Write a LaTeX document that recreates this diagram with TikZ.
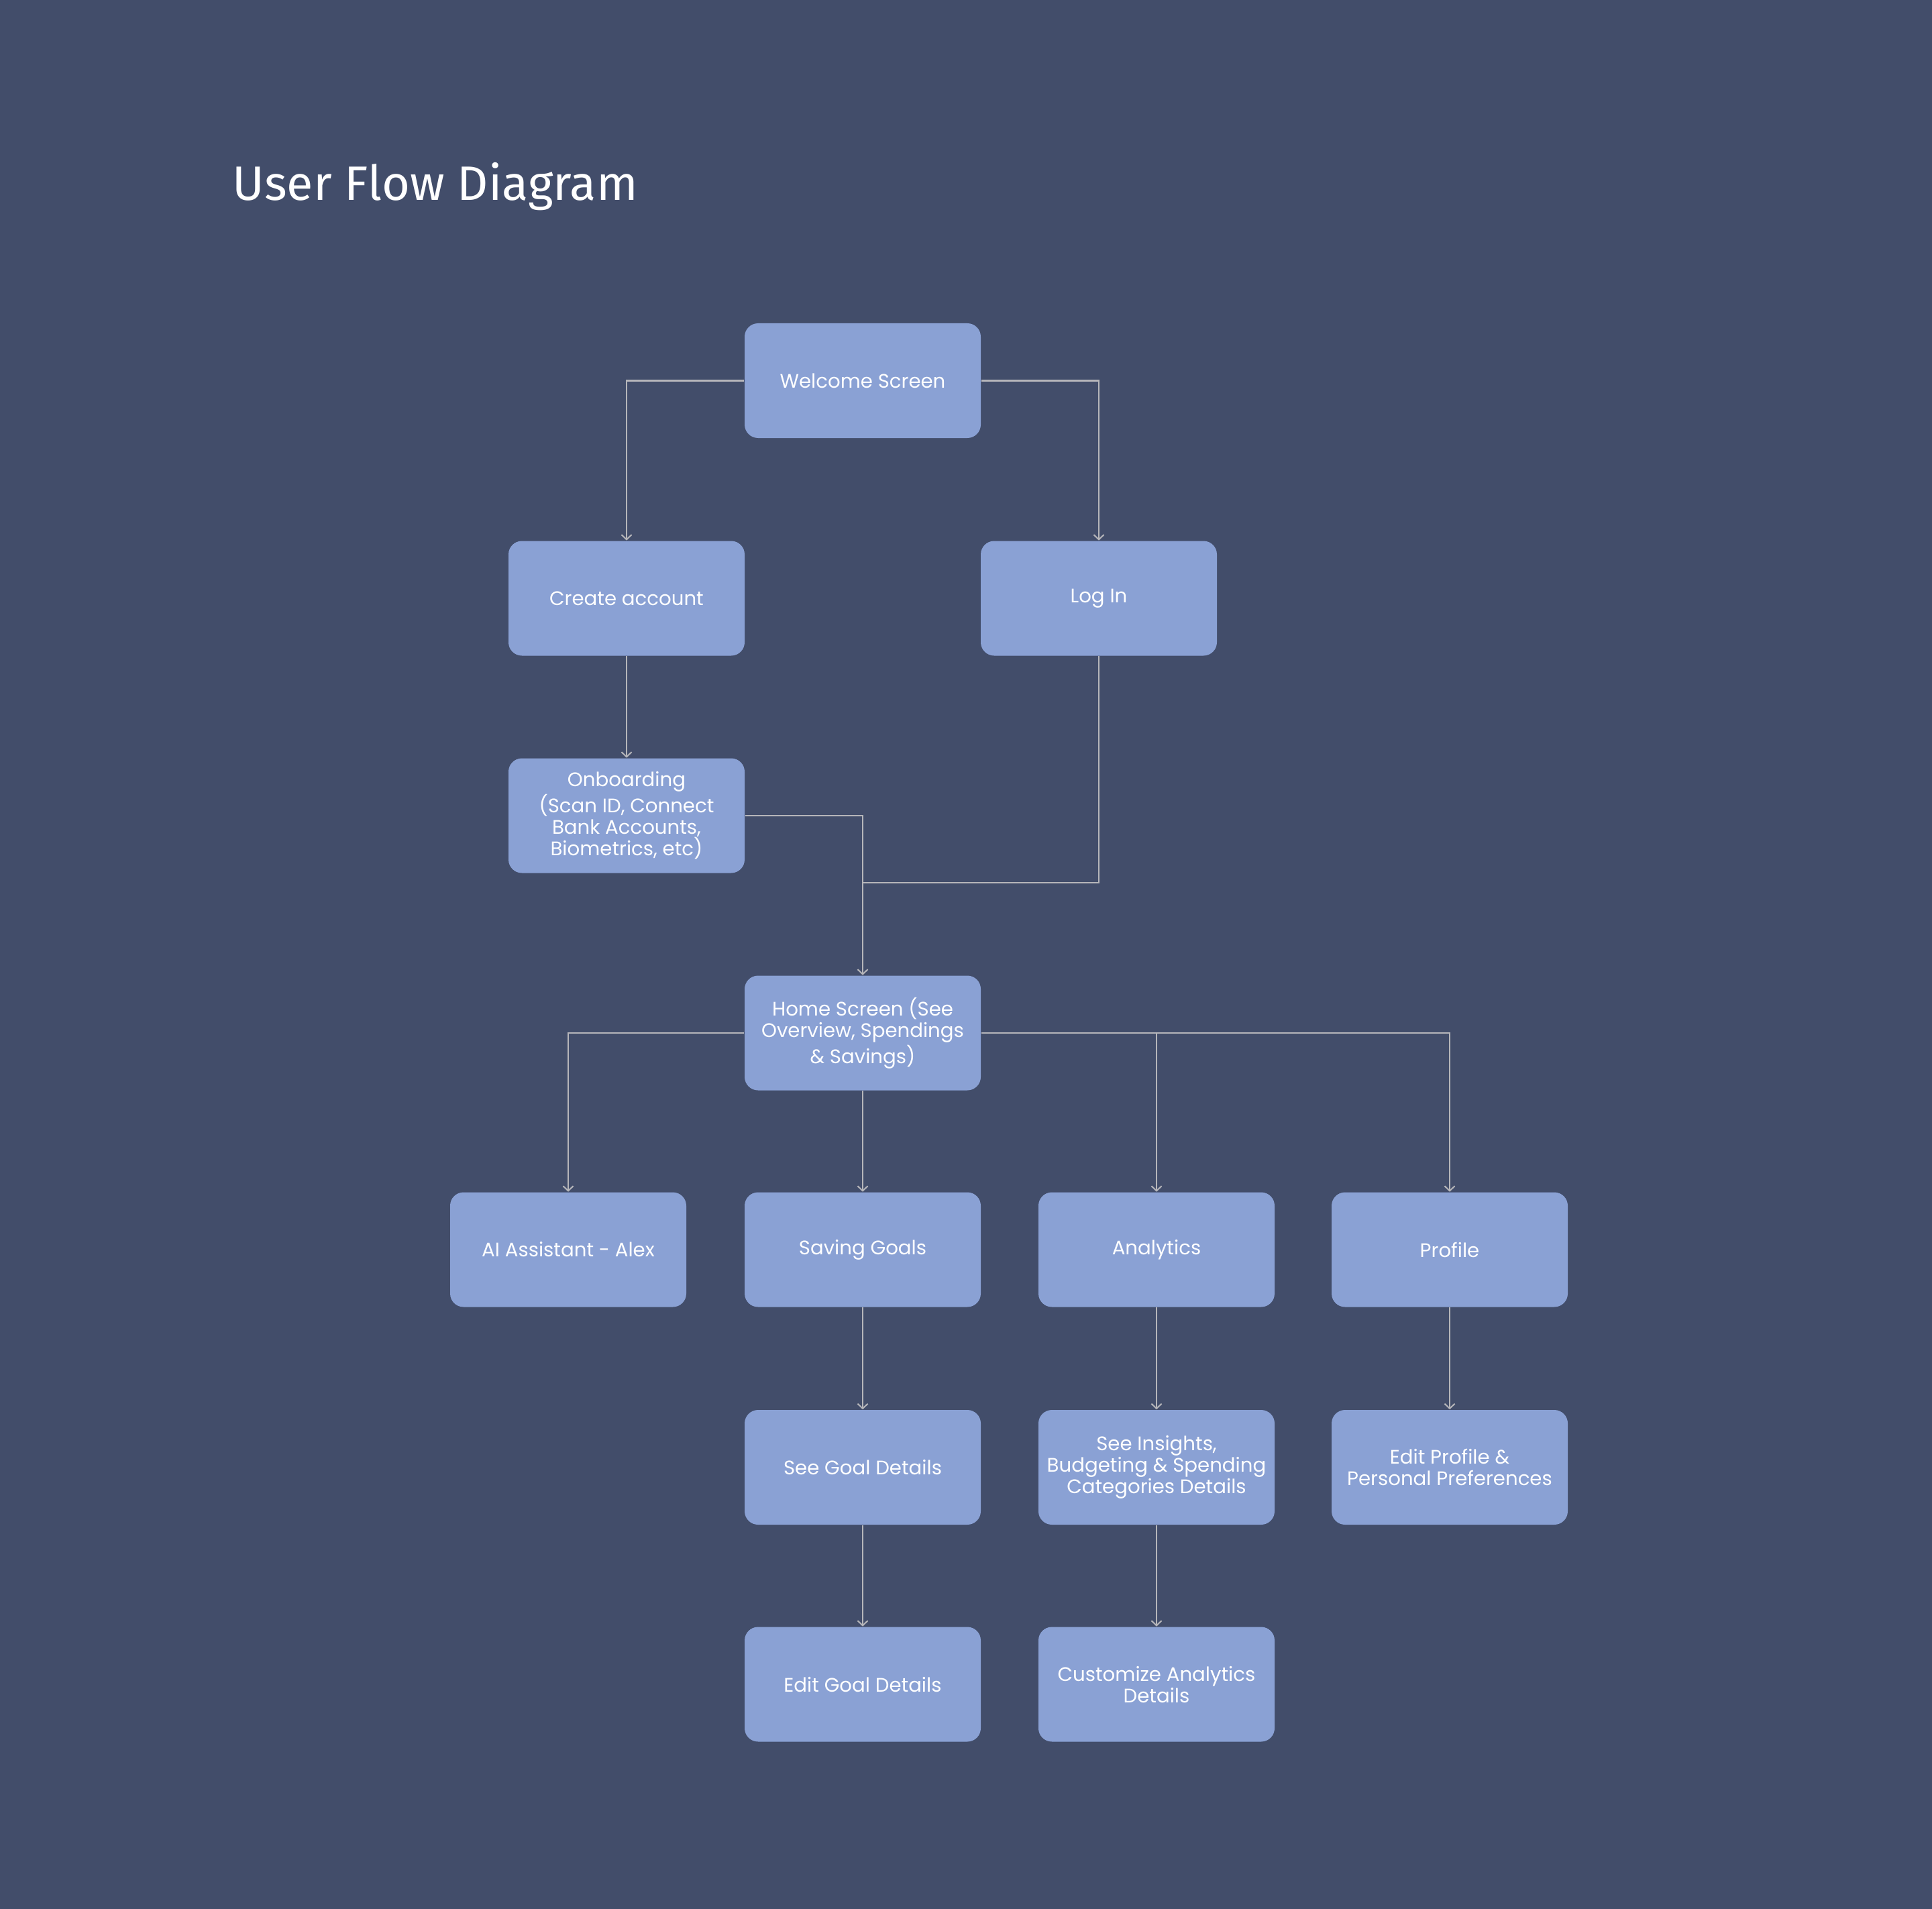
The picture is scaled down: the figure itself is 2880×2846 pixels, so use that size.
\documentclass[tikz,border=0pt]{standalone}
\usepackage{fontspec}
\setmainfont{Poppins}
\newfontfamily\titlefont{Fira Sans}
\usetikzlibrary{arrows.meta}
\definecolor{bgcol}{RGB}{66,77,106}
\definecolor{boxcol}{RGB}{138,161,212}
\definecolor{linecol}{RGB}{182,182,186}
\tikzset{
  box/.style={fill=boxcol, rounded corners=5pt, minimum width=88pt, minimum height=42.75pt,
    inner sep=0pt, align=center, text=white, font=\fontsize{7.3}{8}\selectfont},
  link/.style={draw=linecol, line width=0.55pt},
  conn/.style={link, -{Straight Barb[length=1.8pt,width=3.8pt,line width=0.5pt]}}
}
\begin{document}
\begin{tikzpicture}[x=0.25pt,y=-0.25pt]
\fill[bgcol] (0,0) rectangle (2880,2846);
\useasboundingbox (0,0) rectangle (2880,2846);
\node[anchor=base west, text=white, inner sep=0pt, font=\titlefont\fontsize{18}{20}\selectfont] (title) at (346,299) {User Flow Diagram};

\node[box] (welcome) at (1286,567.5) {Welcome Screen};
\node[box] (create) at (934,892) {Create account};
\node[box] (login) at (1638,892) {Log In};
\node[box] (onboard) at (934,1216) {Onboarding\\(Scan ID, Connect\\Bank Accounts,\\Biometrics, etc)};
\node[box] (home) at (1286,1540) {Home Screen (See\\Overview, Spendings\\\& Savings)};
\node[box] (ai) at (847,1863) {AI Assistant - Alex};
\node[box] (saving) at (1286,1863) {Saving Goals};
\node[box] (analytics) at (1724,1863) {Analytics};
\node[box] (profile) at (2161,1863) {Profile};
\node[box] (goal) at (1286,2187.5) {See Goal Details};
\node[box] (insights) at (1724,2187.5) {See Insights,\\Budgeting \& Spending\\Categories Details};
\node[box] (editprofile) at (2161,2187.5) {Edit Profile \&\\Personal Preferences};
\node[box] (editgoal) at (1286,2511) {Edit Goal Details};
\node[box] (custom) at (1724,2511) {Customize Analytics\\Details};

\coordinate (join) at (1286,1316);

\draw[conn] (welcome.west) -| (create.north);
\draw[conn] (welcome.east) -| (login.north);
\draw[conn] (create.south) -- (onboard.north);
\draw[conn] (onboard.east) -| (home.north);
\draw[link] (login.south) |- (join);
\draw[conn] (home.west) -| (ai.north);
\draw[conn] (home.south) -- (saving.north);
\draw[conn] (home.east) -| (analytics.north);
\draw[conn] (home.east) -| (profile.north);
\draw[conn] (saving.south) -- (goal.north);
\draw[conn] (goal.south) -- (editgoal.north);
\draw[conn] (analytics.south) -- (insights.north);
\draw[conn] (insights.south) -- (custom.north);
\draw[conn] (profile.south) -- (editprofile.north);
\end{tikzpicture}
\end{document}
